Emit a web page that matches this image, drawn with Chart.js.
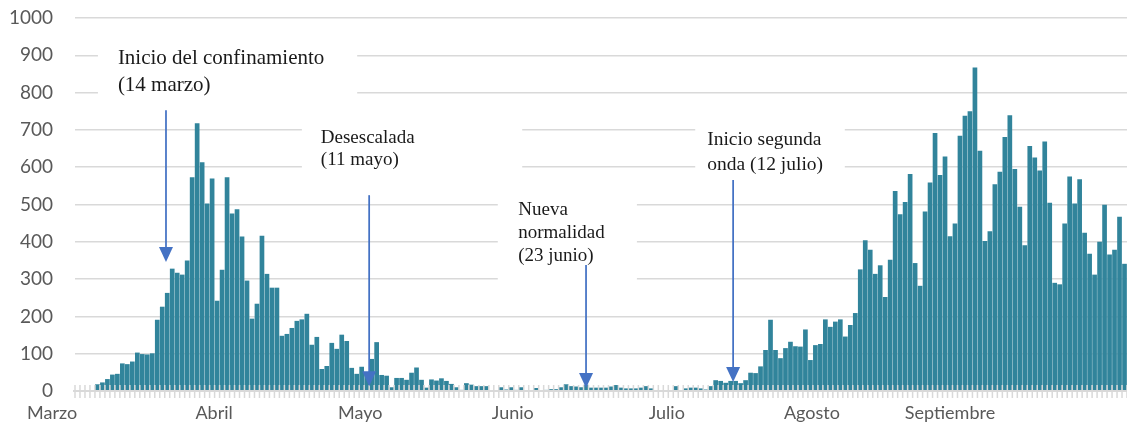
<!DOCTYPE html>
<html>
<head>
<meta charset="utf-8">
<script src="https://cdn.jsdelivr.net/npm/chart.js@4/dist/chart.umd.min.js"></script>
<style>
    html, body { margin: 0; padding: 0; background: #fff; }
    #wrap { width: 1127px; height: 424px; position: relative; }
</style>
</head>
<body>
<div id="wrap"><canvas id="chart"></canvas></div>
<script>
// daily values (one per day)
const dailyValues = [
    0, 0, 0, 0, 18, 23, 32, 44, 46, 74,
    72, 79, 103, 99, 98, 101, 191, 226, 263, 328,
    317, 312, 350, 573, 718, 613, 503, 570, 242, 325,
    573, 476, 487, 414, 296, 194, 234, 416, 314, 277,
    277, 148, 153, 169, 188, 192, 207, 124, 145, 59,
    67, 129, 113, 151, 134, 62, 46, 65, 45, 86,
    131, 43, 41, 10, 35, 35, 30, 49, 63, 30,
    9, 31, 28, 34, 27, 19, 10, 3, 21, 17,
    13, 13, 13, 2, 0, 10, 4, 10, 3, 10,
    0, 0, 8, 0, 3, 5, 5, 10, 18, 13,
    12, 10, 17, 9, 9, 9, 9, 12, 16, 9,
    7, 7, 7, 9, 13, 7, 0, 0, 2, 0,
    13, 0, 7, 9, 9, 7, 4, 13, 29, 27,
    22, 27, 27, 21, 29, 49, 48, 66, 110, 191,
    110, 88, 115, 132, 120, 119, 165, 83, 123, 126,
    192, 172, 186, 192, 146, 177, 209, 326, 404, 379,
    314, 337, 252, 352, 536, 474, 507, 582, 343, 282,
    481, 559, 692, 579, 629, 415, 449, 684, 738, 750,
    867, 644, 402, 428, 554, 588, 681, 739, 595, 494,
    391, 657, 626, 591, 669, 505, 290, 286, 449, 575,
    503, 568, 424, 368, 312, 400, 499, 366, 379, 467,
    341
];
const dayLabels = dailyValues.map((v, i) => String(i + 1));

// month names under the axis and the day (category) each is centred on
const monthNames = ['Marzo', 'Abril', 'Mayo', 'Junio', 'Julio', 'Agosto', 'Septiembre'];
const monthDay = [-5.1, 27.4, 56.7, 87.3, 118.2, 147.3, 175];

const yTicks = [0, 100, 200, 300, 400, 500, 600, 700, 800, 900, 1000];

// annotations, placed in chart coordinates (day index, value)
const notes = [
    { lines: ['Inicio del confinamiento', '(14 marzo)'], x: 8.1, y: 877, lh: 27, size: 21,
      box: [4.1, 56.1, 941, 780], arrow: [17.75, 753, 346] },
    { lines: ['Desescalada', '(11 mayo)'], x: 48.8, y: 665, lh: 22, size: 19,
      box: [45.0, 89.2, 740, 566], arrow: [58.5, 525, 13] },
    { lines: ['Nueva', 'normalidad', '(23 junio)'], x: 88.4, y: 472, lh: 23, size: 19,
      box: [84.3, 112.2, 539, 271], arrow: [102, 338, 8] },
    { lines: ['Inicio segunda', 'onda (12 julio)'], x: 126.3, y: 660, lh: 25, size: 19.5,
      box: [123.9, 153.9, 740, 566], arrow: [131.5, 566, 24] }
];

const barColor = '#31849b';
const gridColor = '#d9d9d9';
const arrowColor = '#4472c4';

const notesPlugin = {
    id: 'notes',
    beforeDatasetsDraw(chart) {
        // white text boxes hide the grid lines behind the labels
        const { ctx, scales: { x, y } } = chart;
        ctx.save();
        ctx.fillStyle = '#fff';
        notes.forEach(n => {
            const x1 = x.getPixelForValue(n.box[0]);
            const x2 = x.getPixelForValue(n.box[1]);
            const y1 = y.getPixelForValue(n.box[2]);
            const y2 = y.getPixelForValue(n.box[3]);
            ctx.fillRect(x1, y1, x2 - x1, y2 - y1);
        });
        ctx.restore();
    },
    afterDatasetsDraw(chart) {
        const { ctx, chartArea, scales: { x, y } } = chart;
        const n = dailyValues.length;
        const step = (chartArea.right - chartArea.left) / n;
        const y0 = y.getPixelForValue(0);
        ctx.save();

        // axis line and day tick marks
        ctx.strokeStyle = gridColor;
        ctx.lineWidth = 2;
        ctx.beginPath();
        ctx.moveTo(chartArea.left - 2, y0);
        ctx.lineTo(chartArea.right, y0);
        ctx.stroke();
        ctx.lineWidth = 1.5;
        ctx.beginPath();
        for (let i = 0; i <= n; i++) {
            const px = chartArea.left + i * step;
            ctx.moveTo(px, y0 - 6);
            ctx.lineTo(px, y0 + 7);
        }
        ctx.stroke();

        // month labels
        ctx.fillStyle = '#595959';
        ctx.font = '18px Lato';
        ctx.textAlign = 'center';
        ctx.textBaseline = 'middle';
        monthNames.forEach((m, i) => {
            ctx.fillText(m, x.getPixelForValue(monthDay[i]), 413);
        });

        // annotation texts and arrows
        notes.forEach(nt => {
            ctx.fillStyle = '#1a1a1a';
            ctx.font = nt.size + 'px "Liberation Serif"';
            ctx.textAlign = 'left';
            ctx.textBaseline = 'alphabetic';
            const tx = x.getPixelForValue(nt.x);
            const ty = y.getPixelForValue(nt.y);
            nt.lines.forEach((line, k) => ctx.fillText(line, tx, ty + k * nt.lh));

            const ax = x.getPixelForValue(nt.arrow[0]);
            const aTop = y.getPixelForValue(nt.arrow[1]);
            const aTip = y.getPixelForValue(nt.arrow[2]);
            ctx.strokeStyle = arrowColor;
            ctx.lineWidth = 1.75;
            ctx.beginPath();
            ctx.moveTo(ax, aTop);
            ctx.lineTo(ax, aTip - 12);
            ctx.stroke();
            ctx.fillStyle = arrowColor;
            ctx.beginPath();
            ctx.moveTo(ax - 7, aTip - 15);
            ctx.lineTo(ax + 7, aTip - 15);
            ctx.lineTo(ax, aTip);
            ctx.closePath();
            ctx.fill();
        });
        ctx.restore();
    }
};

new Chart(document.getElementById('chart'), {
    type: 'bar',
    data: {
        labels: dayLabels,
        datasets: [{
            data: dailyValues,
            backgroundColor: barColor,
            borderWidth: 0,
            barPercentage: 0.94,
            categoryPercentage: 1.0
        }]
    },
    options: {
        responsive: true,
        maintainAspectRatio: false,
        animation: false,
        layout: { padding: { top: 18, bottom: 25, left: 0, right: 0 } },
        plugins: {
            legend: { display: false },
            tooltip: { enabled: false }
        },
        scales: {
            x: {
                offset: true,
                grid: { display: false },
                border: { display: false },
                ticks: { display: false }
            },
            y: {
                min: 0,
                max: 1000,
                afterFit(scale) { scale.width = 75; },
                afterBuildTicks(scale) { scale.ticks = yTicks.map(v => ({ value: v })); },
                border: { display: false },
                grid: {
                    color: ctx => ctx.tick && ctx.tick.value === 0 ? 'rgba(0,0,0,0)' : gridColor,
                    lineWidth: 1.5,
                    drawTicks: true,
                    tickLength: 22,
                    tickColor: 'rgba(0,0,0,0)'
                },
                ticks: {
                    color: '#595959',
                    font: { family: 'Lato', size: 19 },
                    padding: 0,
                    callback: v => String(v)
                }
            }
        }
    },
    plugins: [notesPlugin]
});
</script>
</body>
</html>
